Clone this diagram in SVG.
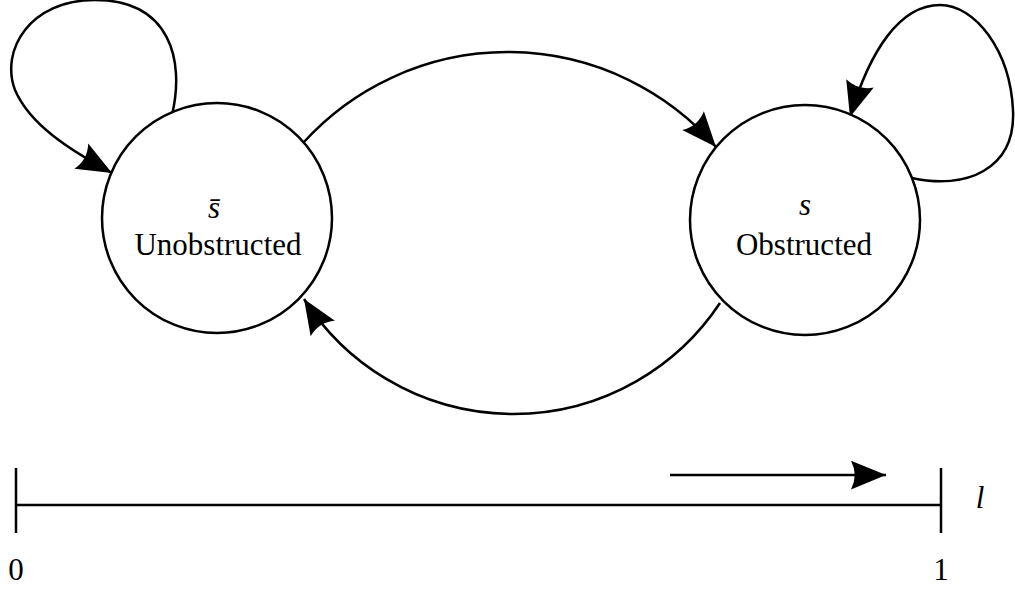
<svg xmlns="http://www.w3.org/2000/svg" width="1015" height="590" viewBox="0 0 1015 590">
<style>
.node{fill:#fff;stroke:#000;stroke-width:2.5}
.edge{fill:none;stroke:#000;stroke-width:2.5}
.lbl{font-family:'Liberation Serif','Times New Roman',Times,'DejaVu Serif',serif;font-size:31px;fill:#000;text-anchor:middle}
.it{font-style:italic}
</style>
<defs>
<marker id="ah" markerUnits="userSpaceOnUse" markerWidth="40" markerHeight="40" viewBox="-30 -15 32 30" refX="0" refY="0" orient="auto">
<path d="M0,0 L-28,-11.5 Q-22,0 -28,11.5 Z" fill="#000"/>
</marker>
</defs>
<g id="connectors">
<path class="edge" d="M172,115 C185,60 170,0 95,0 C30,0 0,50 15,90 C30,125 70,150 112,173" marker-end="url(#ah)"/>
<path class="edge" d="M912,178 C965,190 1016,170 1013,110 C1010,50 975,5 940,5 C900,5 870,50 850,117" marker-end="url(#ah)"/>
<path class="edge" d="M303,143 A276,276 0 0 1 716,147" marker-end="url(#ah)"/>
<path class="edge" d="M720,303 A248,248 0 0 1 304,299" marker-end="url(#ah)"/>
</g>
<g id="node-unobstructed">
<circle class="node" cx="217" cy="218" r="115"/>
<text class="lbl it" x="214" y="218">s̄</text>
<text class="lbl" x="218" y="255">Unobstructed</text>
</g>
<g id="node-obstructed">
<circle class="node" cx="805" cy="220" r="115"/>
<text class="lbl it" x="805" y="215">s</text>
<text class="lbl" x="804" y="255">Obstructed</text>
</g>
<g id="axis">
<line class="edge" x1="16" y1="505" x2="941" y2="505"/>
<line class="edge" x1="16" y1="468" x2="16" y2="533"/>
<line class="edge" x1="941" y1="468" x2="941" y2="533"/>
<line class="edge" x1="670" y1="475" x2="886" y2="475" marker-end="url(#ah)"/>
<text class="lbl" x="16" y="580">0</text>
<text class="lbl" x="941" y="580">1</text>
<text class="lbl it" x="980" y="508">l</text>
</g>
</svg>
